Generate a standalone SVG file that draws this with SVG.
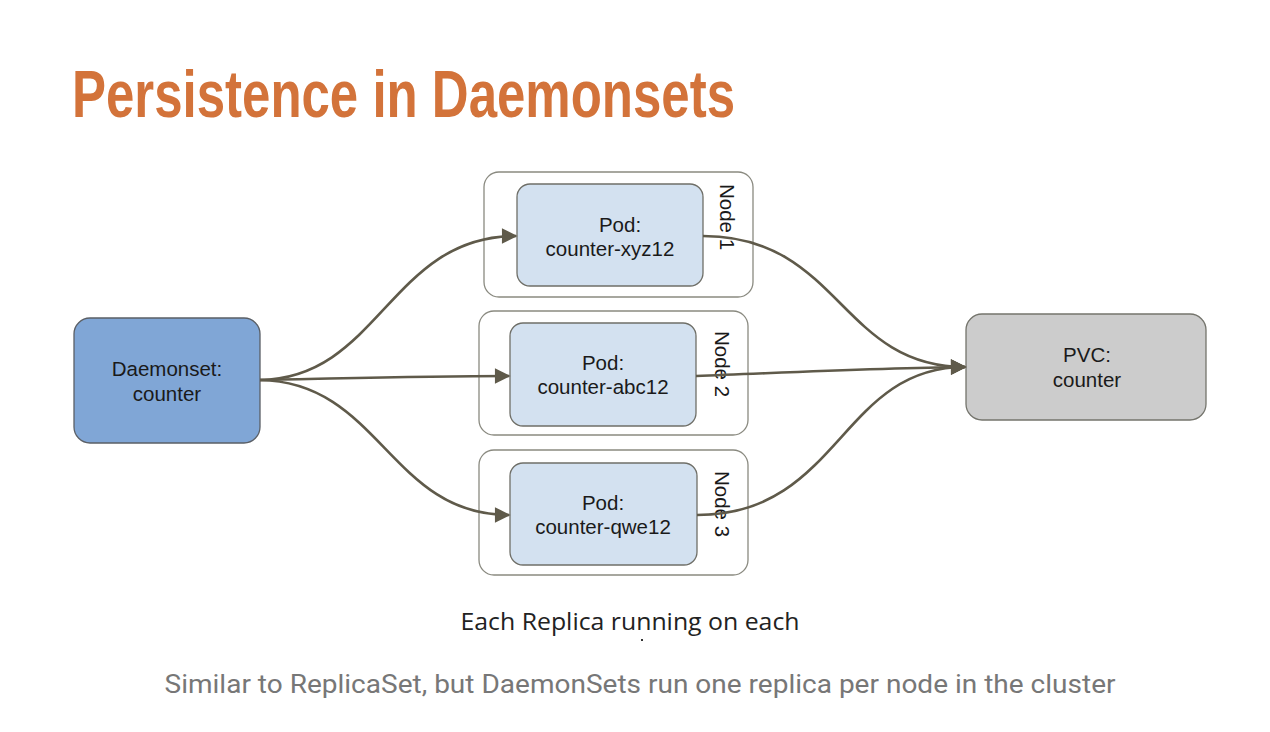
<svg xmlns="http://www.w3.org/2000/svg" width="1270" height="732" viewBox="0 0 1270 732">
<defs>
<marker id="ah" viewBox="0 0 10 10" refX="9" refY="5" markerWidth="6.5" markerHeight="6" markerUnits="strokeWidth" orient="auto">
<path d="M0,0 L10,5 L0,10 z" fill="#5f5a4a"/>
</marker>
<style>
.lbl{font-family:"Liberation Sans",Arial,sans-serif;font-size:20.5px;fill:#1a1a1a;text-anchor:middle}
.nl{font-size:20.5px}
.node{fill:#fff;stroke:#8a8a80;stroke-width:1.3}
.pod{fill:#d3e1f0;stroke:#6f6f68;stroke-width:1.3}
.edge{fill:none;stroke:#5f5a4a;stroke-width:2.6;marker-end:url(#ah)}
</style>
</defs>
<rect width="1270" height="732" fill="#fff"/>
<text x="72" y="117" font-family="'Liberation Sans',Arial,sans-serif" font-weight="bold" font-size="66" fill="#d3733a" textLength="663" lengthAdjust="spacingAndGlyphs">Persistence in Daemonsets</text>

<g id="daemonset">
<rect x="74" y="318" width="186" height="125" rx="16" fill="#80a6d6" stroke="#5a5f66" stroke-width="1.3"/>
<text class="lbl" x="167" y="376">Daemonset:</text>
<text class="lbl" x="167" y="401">counter</text>
</g>

<g id="node1">
<rect class="node" x="484" y="172" width="269" height="125" rx="15"/>
<rect class="pod" x="517" y="184" width="186" height="102" rx="13"/>
<text class="lbl" x="620" y="232">Pod:</text>
<text class="lbl" x="610" y="256">counter-xyz12</text>
<text class="lbl nl" transform="translate(720,217) rotate(90)">Node 1</text>
</g>

<g id="node2">
<rect class="node" x="479" y="311" width="269" height="124" rx="15"/>
<rect class="pod" x="510" y="323" width="186" height="103" rx="13"/>
<text class="lbl" x="603" y="370">Pod:</text>
<text class="lbl" x="603" y="394">counter-abc12</text>
<text class="lbl nl" transform="translate(715,364) rotate(90)">Node 2</text>
</g>

<g id="node3">
<rect class="node" x="479" y="450" width="269" height="125" rx="15"/>
<rect class="pod" x="510" y="463" width="187" height="102" rx="13"/>
<text class="lbl" x="603" y="510">Pod:</text>
<text class="lbl" x="603" y="534">counter-qwe12</text>
<text class="lbl nl" transform="translate(715,504) rotate(90)">Node 3</text>
</g>

<g id="pvc">
<rect x="966" y="314" width="240" height="106" rx="16" fill="#cccccc" stroke="#74746c" stroke-width="1.3"/>
<text class="lbl" x="1087" y="362">PVC:</text>
<text class="lbl" x="1087" y="387">counter</text>
</g>

<g id="connectors">
<path class="edge" d="M260,380 C 380,378 390,236 516,236"/>
<path class="edge" d="M260,380 C 360,378 420,376 509,376"/>
<path class="edge" d="M260,380 C 380,382 390,515 509,515"/>
<path class="edge" d="M703,236 C 840,236 840,367 965,367"/>
<path class="edge" d="M696,376 C 800,372 880,368 965,367"/>
<path class="edge" d="M697,515 C 840,515 840,367 965,367"/>
</g>

<text x="630" y="630" font-family="'Open Sans','Noto Sans',sans-serif" font-size="24" fill="#222" text-anchor="middle" textLength="339" lengthAdjust="spacingAndGlyphs">Each Replica running on each</text>
<rect x="641" y="639" width="2" height="2" fill="#333"/>
<text x="640" y="693" font-family="Roboto,'Liberation Sans',sans-serif" font-size="25" fill="#777" text-anchor="middle" textLength="951" lengthAdjust="spacingAndGlyphs">Similar to ReplicaSet, but DaemonSets run one replica per node in the cluster</text>
</svg>
